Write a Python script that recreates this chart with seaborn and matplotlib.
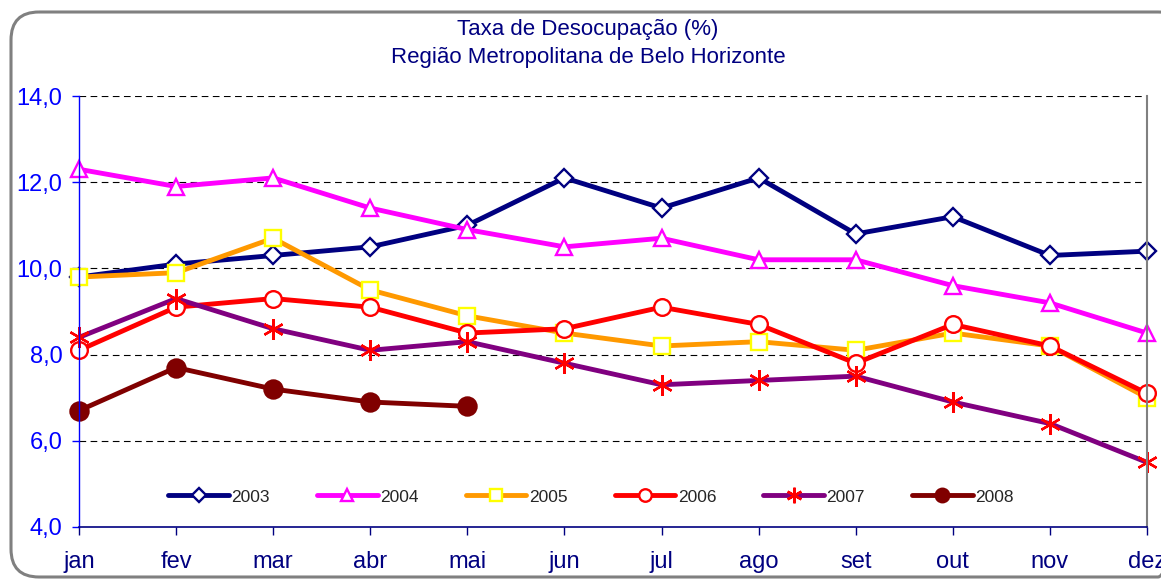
import numpy as np
import seaborn as sns
import matplotlib.pyplot as plt
from matplotlib.patches import FancyBboxPatch
from matplotlib.ticker import FuncFormatter

# monthly unemployment rate, RMBH
months = ["jan", "fev", "mar", "abr", "mai", "jun", "jul", "ago", "set", "out", "nov", "dez"]
taxa_2003 = [9.8, 10.1, 10.3, 10.5, 11.0, 12.1, 11.4, 12.1, 10.8, 11.2, 10.3, 10.4]
taxa_2004 = [12.3, 11.9, 12.1, 11.4, 10.9, 10.5, 10.7, 10.2, 10.2, 9.6, 9.2, 8.5]
taxa_2005 = [9.8, 9.9, 10.7, 9.5, 8.9, 8.5, 8.2, 8.3, 8.1, 8.5, 8.2, 7.0]
taxa_2006 = [8.1, 9.1, 9.3, 9.1, 8.5, 8.6, 9.1, 8.7, 7.8, 8.7, 8.2, 7.1]
taxa_2007 = [8.4, 9.3, 8.6, 8.1, 8.3, 7.8, 7.3, 7.4, 7.5, 6.9, 6.4, 5.5]
taxa_2008 = [6.7, 7.7, 7.2, 6.9, 6.8]

sns.set_style("white")
plt.rcParams['font.family'] = ['Liberation Sans', 'DejaVu Sans']

fig = plt.figure(figsize=(11.61, 5.79), dpi=100)

# rounded gray frame around the chart (pixel coordinates)
bg = fig.add_axes([0, 0, 1, 1])
bg.set_xlim(0, 1161)
bg.set_ylim(579, 0)
bg.axis("off")
bg.add_patch(FancyBboxPatch((11, 12), 1175, 565, boxstyle="round,pad=0,rounding_size=28",
                            fill=False, edgecolor="#808080", linewidth=2.2))

ax = fig.add_axes([79 / 1161, 1 - 527 / 579, (1147 - 79) / 1161, (527 - 96) / 579])

# year, values, line colour, marker, face, edge, size
series = [
    ("2003", taxa_2003, "#000080", "D", "white", "#000080", 9),
    ("2004", taxa_2004, "#FF00FF", "^", "white", "#FF00FF", 12),
    ("2005", taxa_2005, "#FF9900", "s", "white", "#FFFF00", 11),
    ("2006", taxa_2006, "#FF0000", "o", "white", "#FF0000", 12),
    ("2007", taxa_2007, "#800080", (6, 2, 0), "#FF0000", "#FF0000", 15),
    ("2008", taxa_2008, "#800000", "o", "#800000", "#800000", 13),
]

for year, vals, col, mk, face, edge, ms in series:
    sns.lineplot(x=np.arange(len(vals)), y=vals, ax=ax, color=col, linewidth=3.5,
                 marker=mk, markersize=ms, markerfacecolor=face, markeredgecolor=edge,
                 markeredgewidth=1.7, label=year, legend=False, clip_on=False)

ax.set_xlim(0, 11)
ax.set_ylim(4, 14)
ax.set_xticks(range(12))
ax.set_xticklabels(months)
ax.set_yticks([4, 6, 8, 10, 12, 14])
ax.yaxis.set_major_formatter(FuncFormatter(lambda v, p: f"{v:.1f}".replace(".", ",")))

for y in [6, 8, 10, 12, 14]:
    ax.axhline(y, color="black", linewidth=0.8, linestyle=(0, (6, 4)), zorder=0)

ax.spines["top"].set_visible(False)
ax.spines["left"].set_color("#0000FF")
ax.spines["bottom"].set_color("#000080")
ax.spines["right"].set_color("#808080")
ax.spines["left"].set_linewidth(1.0)
ax.spines["bottom"].set_linewidth(1.2)
ax.spines["right"].set_linewidth(1.5)

ax.tick_params(axis="y", colors="#0000FF", labelsize=17, length=5, width=1, direction="out",
               pad=7, left=True)
ax.tick_params(axis="x", colors="#000080", labelsize=17, length=6, width=1, direction="out",
               pad=11, bottom=True)
ax.set_xlabel("")
ax.set_ylabel("")

fig.text(588 / 1161, 1 - 30 / 579, "Taxa de Desocupação (%)", ha="center", va="center",
         fontsize=16, color="#000080")
fig.text(588 / 1161, 1 - 58 / 579, "Região Metropolitana de Belo Horizonte", ha="center",
         va="center", fontsize=16, color="#000080")

handles, labels = ax.get_legend_handles_labels()
ax.legend(handles, labels, loc="center", bbox_to_anchor=(591 / 1161, 1 - 497 / 579),
          bbox_transform=fig.transFigure, ncol=6, frameon=False, fontsize=12.5,
          handlelength=3.5, handletextpad=0.15, columnspacing=2.7, markerscale=0.75)

fig.savefig("out.png", dpi=100)
